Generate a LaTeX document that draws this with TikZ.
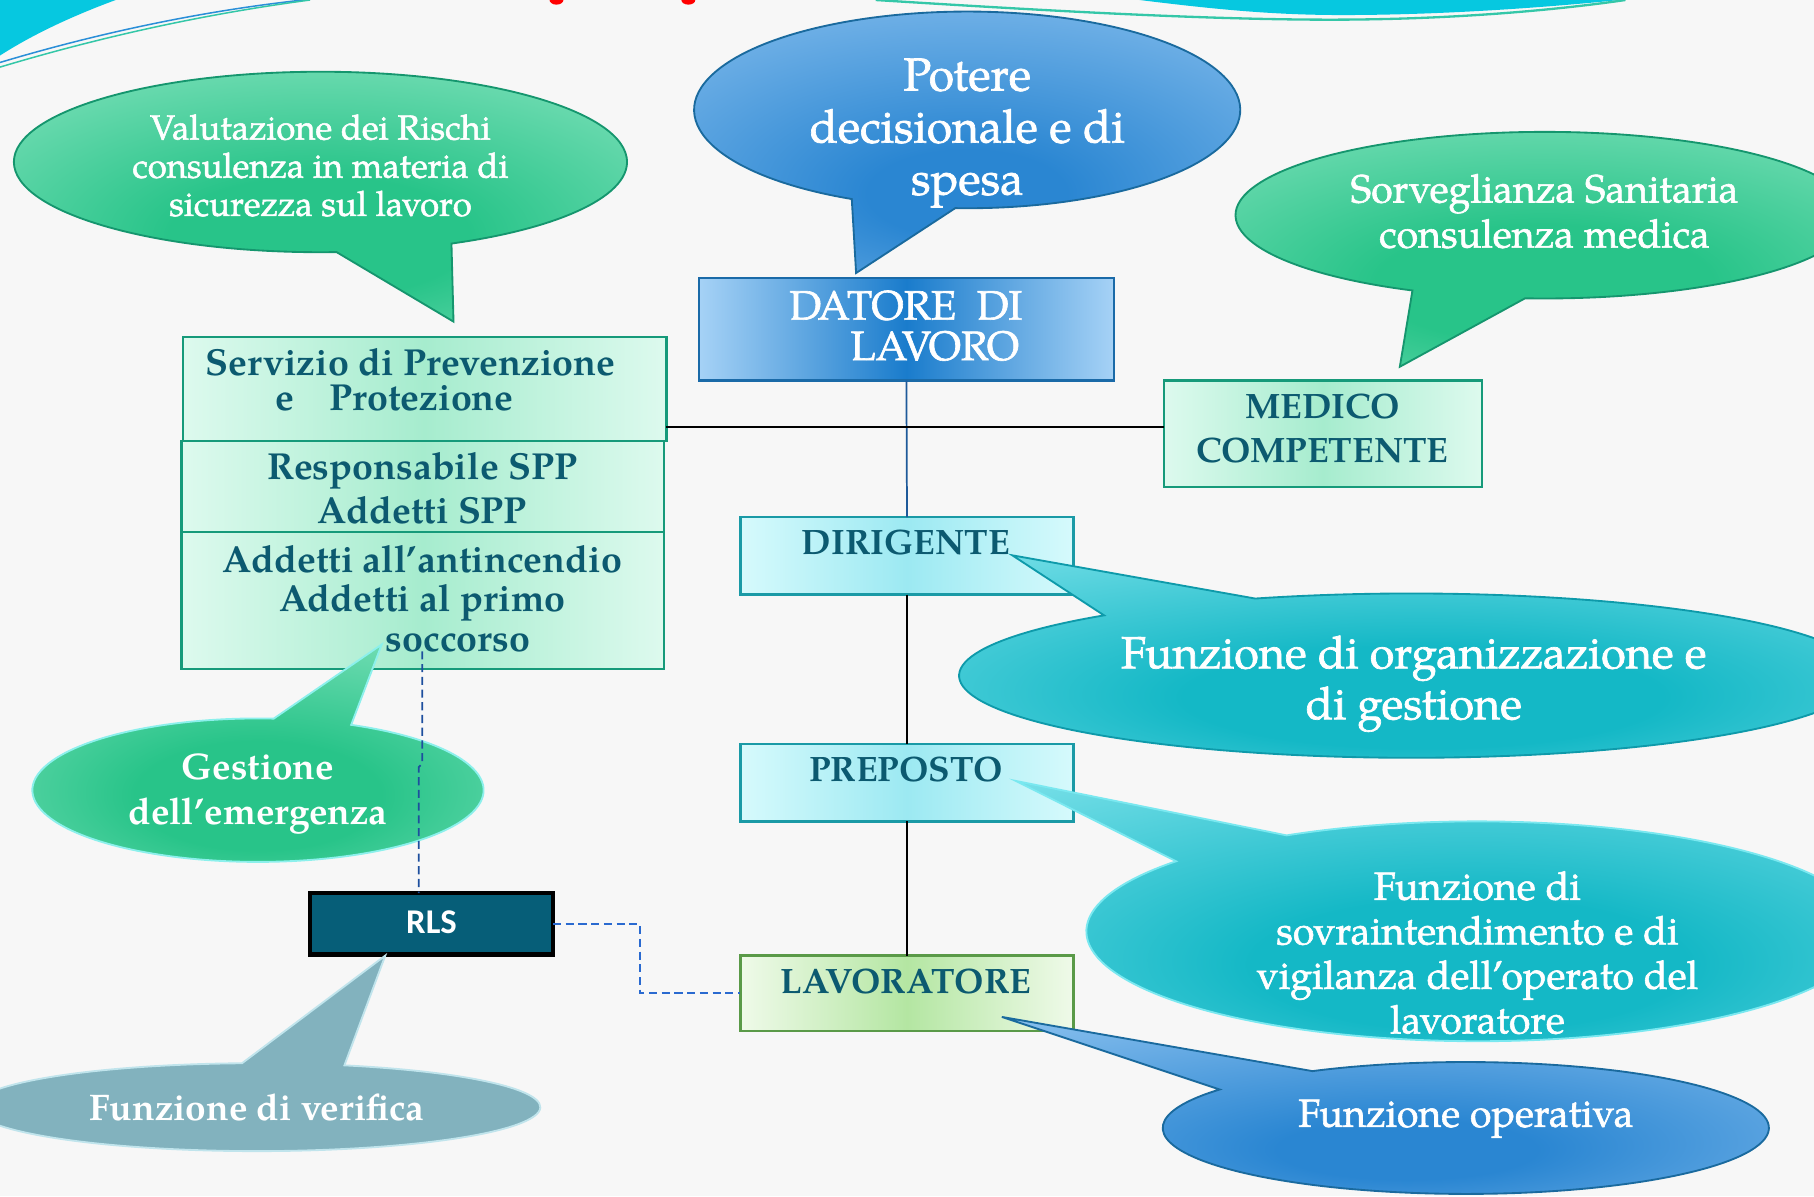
\documentclass[tikz,border=0pt]{standalone}
\usepackage{fontspec}
\setmainfont{texgyrepagella}[Extension=.otf,UprightFont=*-regular,BoldFont=*-bold,ItalicFont=*-italic,BoldItalicFont=*-bolditalic]
\newfontfamily\wfont{texgyrepagella}[Extension=.otf,UprightFont=*-regular,BoldFont=*-bold,FakeBold=1.5]
\newfontfamily\rlsfont{Carlito}
\definecolor{bgC}{HTML}{F7F7F7}
\definecolor{decoC}{HTML}{06C8E0}
\definecolor{decoB}{HTML}{2A8FD8}
\definecolor{decoG}{HTML}{34C7A8}
\definecolor{gC}{HTML}{28C489}
\definecolor{gE}{HTML}{A4EDD0}
\definecolor{gB}{HTML}{15966E}
\definecolor{bC}{HTML}{2A86D2}
\definecolor{bE}{HTML}{A0CEF5}
\definecolor{bB}{HTML}{1A6A9E}
\definecolor{cC}{HTML}{14B8C6}
\definecolor{cE}{HTML}{9AEDF4}
\definecolor{cB}{HTML}{0E9AAA}
\definecolor{cB2}{HTML}{7AE8F0}
\definecolor{vC}{HTML}{82B2BE}
\definecolor{vE}{HTML}{A6CAD4}
\definecolor{vB}{HTML}{C0E4EC}
\definecolor{geB}{HTML}{8CF0EC}
\definecolor{sppE}{HTML}{DDFAEE}
\definecolor{sppC}{HTML}{A6ECCE}
\definecolor{sppB}{HTML}{169A7A}
\definecolor{datE}{HTML}{A6D2F6}
\definecolor{datC}{HTML}{1A7CCC}
\definecolor{datB}{HTML}{1A6AA8}
\definecolor{cyE}{HTML}{D6FAFC}
\definecolor{cyC}{HTML}{9CE9F2}
\definecolor{cyB}{HTML}{1A9AA6}
\definecolor{lavE}{HTML}{EFFAE9}
\definecolor{lavC}{HTML}{B4E6A2}
\definecolor{lavB}{HTML}{5A9A48}
\definecolor{rlsC}{HTML}{065E78}
\definecolor{txtT}{HTML}{0C5A70}
\definecolor{lnBl}{HTML}{1E5A9A}
\definecolor{dashA}{HTML}{1D4F9E}
\definecolor{dashB}{HTML}{2A6AD0}
\pgfdeclareradialshading{shgreen}{\pgfpoint{0bp}{-10bp}}{color(0bp)=(gC);color(12bp)=(gC);color(48bp)=(gE);color(70bp)=(gE)}
\pgfdeclareradialshading{shblue}{\pgfpoint{0bp}{-12bp}}{color(0bp)=(bC);color(8bp)=(bC);color(46bp)=(bE);color(70bp)=(bE)}
\pgfdeclareradialshading{shcyan}{\pgfpoint{0bp}{-10bp}}{color(0bp)=(cC);color(12bp)=(cC);color(48bp)=(cE);color(70bp)=(cE)}
\pgfdeclareradialshading{shgray}{\pgfpoint{0bp}{0bp}}{color(0bp)=(vC);color(35bp)=(vC);color(55bp)=(vE);color(70bp)=(vE)}
\begin{document}
\begin{tikzpicture}[x=1pt,y=-1pt,
  every node/.style={inner sep=0pt,outer sep=0pt},
  sppbox/.style={rectangle,draw=sppB,line width=2pt,left color=sppE,right color=sppE,middle color=sppC},
  datbox/.style={rectangle,draw=datB,line width=2pt,left color=datE,right color=datE,middle color=datC},
  cybox/.style={rectangle,draw=cyB,line width=2pt,left color=cyE,right color=cyE,middle color=cyC},
  lavbox/.style={rectangle,draw=lavB,line width=2pt,left color=lavE,right color=lavE,middle color=lavC},
  rlsbox/.style={rectangle,draw=black,line width=4pt,fill=rlsC},
  bta/.style={text=txtT,font=\bfseries\fontsize{32.5}{36}\selectfont},
  btb/.style={text=txtT,font=\bfseries\fontsize{30.5}{34}\selectfont},
  wt/.style={text=white,align=center},
  bgreen/.style={shade,shading=shgreen,draw=gB,line width=1.6pt},
  bgreenl/.style={shade,shading=shgreen,draw=geB,line width=1.6pt},
  bblue/.style={shade,shading=shblue,draw=bB,line width=1.6pt},
  bcyan/.style={shade,shading=shcyan,draw=cB,line width=1.6pt},
  bcyanl/.style={shade,shading=shcyan,draw=cB2,line width=1.6pt},
  bgray/.style={shade,shading=shgray,draw=vB,line width=1.6pt},
  lnK/.style={draw=black,line width=1.5pt},
  lnB/.style={draw=lnBl,line width=1.5pt},
  dsh/.style={line width=1.5pt,dash pattern=on 7pt off 4pt}]
\useasboundingbox (0,0) rectangle (1568,1034);
\clip (0,0) rectangle (1568,1034);
\fill[bgC] (0,0) rectangle (1568,1034);
% top decorations
\fill[decoC] (0,0) -- (100,0) .. controls (62,14) and (28,30) .. (0,48) -- cycle;
\draw[decoB,line width=1.3pt] (0,54) .. controls (80,30) and (170,10) .. (262,0);
\draw[decoG,line width=1.3pt] (0,58) .. controls (80,34) and (170,13) .. (268,0);
\fill[decoC] (985,0) .. controls (1050,8) and (1100,13) .. (1160,13) .. controls (1250,13) and (1340,6) .. (1400,0) -- cycle;
\draw[decoG,line width=2pt] (757,0) .. controls (900,9) and (1040,17) .. (1150,17) .. controls (1260,17) and (1350,8) .. (1405,0);
\fill[red] (481,0) ellipse (6 and 4);
\fill[red] (595,0) ellipse (6 and 4);
% boxes
\node[sppbox,minimum width=418pt,minimum height=90pt] (spp1) at (367,336) {};
\node[sppbox,minimum width=417pt,minimum height=79pt] (spp2) at (365.5,420.5) {};
\node[sppbox,minimum width=417pt,minimum height=118pt] (spp3) at (365.5,519) {};
\node[datbox,minimum width=359pt,minimum height=89pt] (dat) at (783.5,284.5) {};
\node[sppbox,minimum width=275pt,minimum height=92pt] (med) at (1143.5,375) {};
\node[cybox,minimum width=288pt,minimum height=67pt] (dir) at (784,480.5) {};
\node[cybox,minimum width=288pt,minimum height=67pt] (pre) at (784,676.5) {};
\node[lavbox,minimum width=288pt,minimum height=65pt] (lav) at (784,858.5) {};
\node[rlsbox,minimum width=210pt,minimum height=53pt] (rls) at (373,798.5) {};
% box texts
\node[bta] (t1) at (355,313) {Servizio di Prevenzione};
\node[bta] (t2) at (341,344) {e\hspace{31pt}Protezione};
\node[bta] (t3) at (365,407) {Responsabile SPP};
\node[bta] (t4) at (365,441) {Addetti SPP};
\node[bta] (t5) at (365,483) {Addetti all’antincendio};
\node[bta] (t6) at (365,521) {Addetti al primo};
\node[bta] (t7) at (396,556) {soccorso};
\node[text=white,font=\wfont\fontsize{35.5}{38}\selectfont] (td1) at (783,264) {DATORE\ \ DI};
\node[text=white,font=\wfont\fontsize{35.5}{38}\selectfont] (td2) at (808,299) {LAVORO};
\node[btb] (tm1) at (1143,351) {MEDICO};
\node[btb] (tm2) at (1143,389) {COMPETENTE};
\node[btb] (tdir) at (783,469) {DIRIGENTE};
\node[btb] (tpre) at (783,665) {PREPOSTO};
\node[btb] (tlav) at (783,848) {LAVORATORE};
\node[text=white,font=\rlsfont\bfseries\fontsize{30}{32}\selectfont] (trls) at (373,797) {RLS};
% solid connectors
\coordinate (hy) at (0,369);
\draw[lnB] (dat.south) -- (dir.north);
\draw[lnK] (spp1.east |- hy) -- (med.west |- hy);
\draw[lnK] (dir.south) -- (pre.north);
\draw[lnK] (pre.south) -- (lav.north);
% bubbles
\path[bblue] (836,95) ++(115:236 and 85) arc[start angle=115,end angle=452.5,x radius=236,y radius=85] -- (740,236) -- cycle;
\node[wt,font=\wfont\fontsize{40}{45}\selectfont] (bpot) at (836,115) {Potere\\decisionale e di\\spesa};
\path[bgreen] (277,140) ++(87:265 and 78) arc[start angle=87,end angle=424.7,x radius=265,y radius=78] -- (392,278) -- cycle;
\node[wt,font=\wfont\fontsize{30}{33}\selectfont] (bval) at (277,143) {Valutazione dei Rischi\\consulenza in materia di\\sicurezza sul lavoro};
\path[bgreen] (1335,186) ++(115.3:267 and 72) arc[start angle=115.3,end angle=453.6,x radius=267,y radius=72] -- (1210,317) -- cycle;
\node[wt,font=\wfont\fontsize{34}{39}\selectfont] (bsor) at (1335,182.5) {Sorveglianza Sanitaria\\consulenza medica};
\path[bgreenl] (223,683) ++(294.4:195 and 62) arc[start angle=294.4,end angle=634,x radius=195,y radius=62] -- (330,557) -- cycle;
\node[wt,font=\bfseries\fontsize{32}{39}\selectfont] (bges) at (223,686.5) {Gestione\\dell’emergenza};
\path[bgray] (222,957) ++(288:245 and 38) arc[start angle=288,end angle=627,x radius=245,y radius=38] -- (333,826) -- cycle;
\node[wt,font=\bfseries\fontsize{32}{36}\selectfont] (bver) at (222,957) {Funzione di verifica};
\path[bcyan] (1220,584) ++(249.8:391 and 71) arc[start angle=249.8,end angle=587.2,x radius=391,y radius=71] -- (875,480) -- cycle;
\node[wt,font=\wfont\fontsize{39}{44}\selectfont] (borg) at (1222,591) {Funzione di organizzazione e\\di gestione};
\path[bcyanl] (1277,805) ++(240.8:338 and 95) arc[start angle=240.8,end angle=579.6,x radius=338,y radius=95] -- (878,675) -- cycle;
\node[wt,font=\wfont\fontsize{34}{38.5}\selectfont] (bsov) at (1277,823.5) {Funzione di\\sovraintendimento e di\\vigilanza dell’operato del\\lavoratore};
\path[bblue] (1267,975) ++(239.6:262 and 57) arc[start angle=239.6,end angle=575.7,x radius=262,y radius=57] -- (866,879) -- cycle;
\node[wt,font=\wfont\fontsize{34}{38}\selectfont] (bope) at (1267,967) {Funzione operativa};
% dashed connectors
\coordinate (dtop) at (365,563);
\coordinate (dx) at (362,0);
\draw[dsh,draw=dashA] (dtop) -- (365,660) -- (362,663) -- (rls.north -| dx);
\draw[dsh,draw=dashB] (rls.east) -- ++(75,0) |- (lav.west);
\end{tikzpicture}
\end{document}
